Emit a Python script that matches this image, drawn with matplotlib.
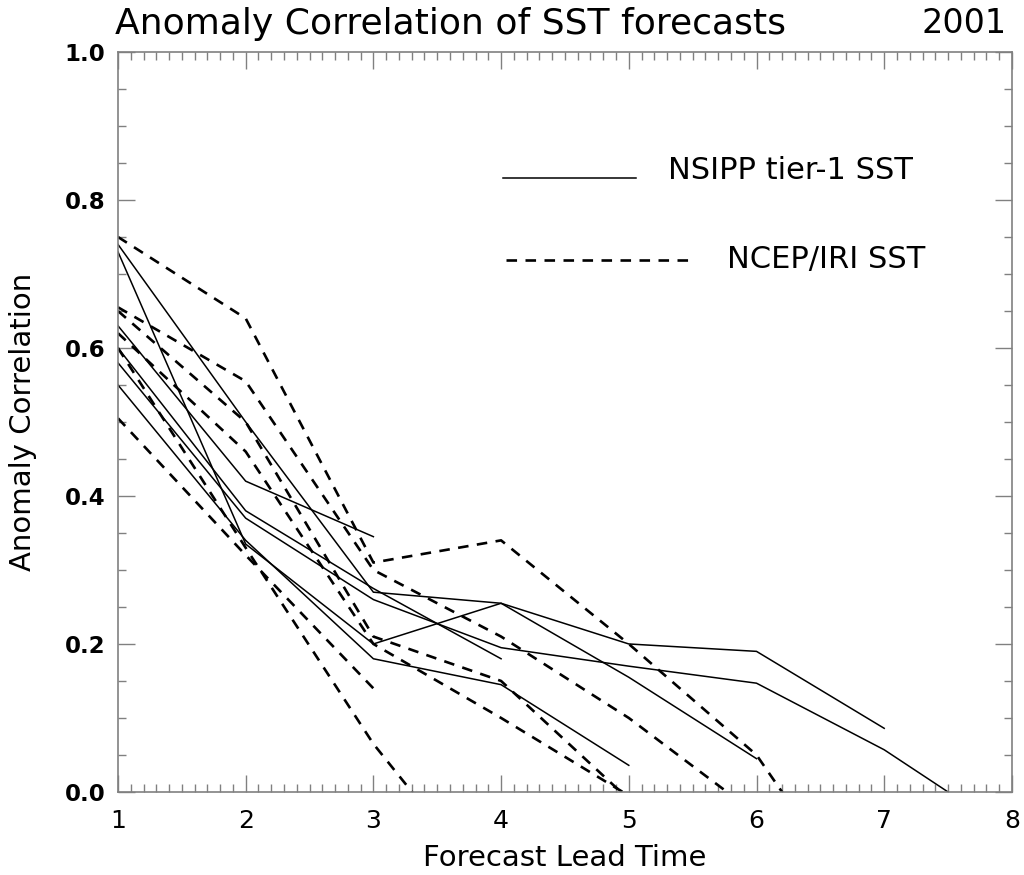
import numpy as np
import matplotlib.pyplot as plt
from matplotlib.ticker import MultipleLocator, FormatStrFormatter

# NSIPP tier-1 SST forecasts (solid), one list per start month
nsipp_a = [0.63, 0.42, 0.345]
nsipp_b = [0.60, 0.38, 0.275, 0.18]
nsipp_c = [0.55, 0.34, 0.18, 0.145, 0.036]
nsipp_d = [0.73, 0.335, 0.20, 0.255, 0.155, 0.045]
nsipp_e = [0.74, 0.50, 0.27, 0.255, 0.20, 0.19, 0.086]
nsipp_f = [0.58, 0.37, 0.26, 0.195, 0.17, 0.147, 0.057, -0.057]

# NCEP/IRI SST forecasts (dashed)
ncep_a = [0.505, 0.32, 0.14]
ncep_b = [0.60, 0.33, 0.065, -0.15]
ncep_c = [0.65, 0.50, 0.21, 0.15, -0.01]
ncep_d = [0.62, 0.46, 0.20, 0.10, -0.005]
ncep_e = [0.655, 0.555, 0.30, 0.21, 0.10, -0.03]
ncep_f = [0.75, 0.64, 0.31, 0.34, 0.20, 0.05, -0.2]

nsipp = [nsipp_a, nsipp_b, nsipp_c, nsipp_d, nsipp_e, nsipp_f]
ncep = [ncep_a, ncep_b, ncep_c, ncep_d, ncep_e, ncep_f]

fig = plt.figure(figsize=(10.24, 8.75), dpi=100)
ax = fig.add_axes([0.1152, 0.0949, 0.8730, 0.8457])

for s in nsipp:
    lead = np.arange(1, len(s) + 1)
    ax.plot(lead, s, color="black", lw=1.1, solid_joinstyle="miter")
for s in ncep:
    lead = np.arange(1, len(s) + 1)
    ax.plot(lead, s, color="black", lw=1.9, dashes=(4, 3.2))

ax.set_xlim(1, 8)
ax.set_ylim(0, 1)
ax.xaxis.set_major_locator(MultipleLocator(1))
ax.xaxis.set_minor_locator(MultipleLocator(0.1))
ax.yaxis.set_major_locator(MultipleLocator(0.2))
ax.yaxis.set_minor_locator(MultipleLocator(0.05))
ax.yaxis.set_major_formatter(FormatStrFormatter("%.1f"))

gray = "0.5"
for sp in ax.spines.values():
    sp.set_color(gray)
    sp.set_linewidth(1.2)
ax.tick_params(which="both", direction="in", top=True, right=True, color=gray, width=1)
ax.tick_params(which="major", length=12)
ax.tick_params(which="minor", length=6)
ax.tick_params(axis="x", which="major", labelsize=18, pad=12)
ax.tick_params(axis="y", which="major", labelsize=16.5, pad=9)
for lab in ax.get_yticklabels():
    lab.set_fontweight("bold")

ax.set_xlabel("Forecast Lead Time", fontsize=21, labelpad=8)
ax.set_ylabel("Anomaly Correlation", fontsize=21, labelpad=20)

fig.text(0.112, 0.973, "Anomaly Correlation of SST forecasts", fontsize=26, va="center", ha="left")
fig.text(0.983, 0.973, "2001", fontsize=24, va="center", ha="right")

# legend drawn inside the plot, as in the original
ax.plot([0.431, 0.579], [0.830, 0.830], color="black", lw=1.1, transform=ax.transAxes)
ax.text(0.615, 0.840, "NSIPP tier-1 SST", fontsize=22, va="center", transform=ax.transAxes)
ax.plot([0.434, 0.645], [0.719, 0.719], color="black", lw=1.9, dashes=(4, 3.2), transform=ax.transAxes)
ax.text(0.681, 0.719, "NCEP/IRI SST", fontsize=22, va="center", transform=ax.transAxes)

fig.savefig("out.png", dpi=100)
